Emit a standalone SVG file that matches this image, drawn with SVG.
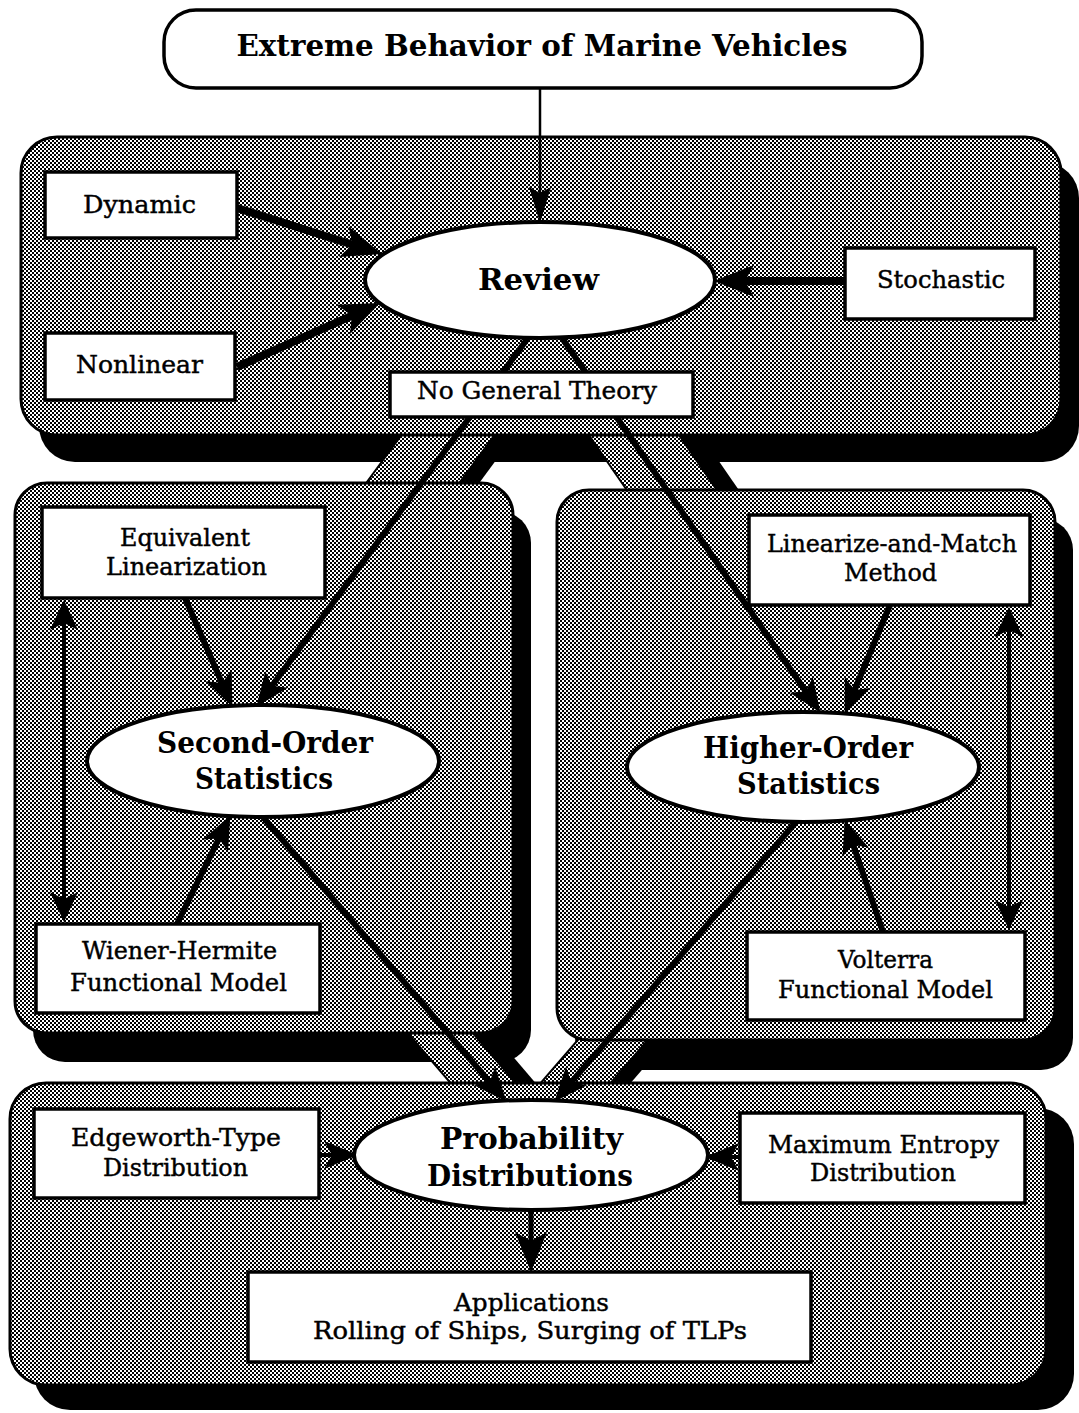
<svg xmlns="http://www.w3.org/2000/svg" width="1079" height="1413" viewBox="0 0 1079 1413">
<defs>
<pattern id="ht" width="4" height="4" patternUnits="userSpaceOnUse"><rect width="4" height="4" fill="#fff"/><rect width="2" height="2" fill="#000"/><rect x="2" y="2" width="2" height="2" fill="#000"/></pattern>
<marker id="at" markerUnits="userSpaceOnUse" markerWidth="40" markerHeight="30" refX="10" refY="11" orient="auto" overflow="visible"><path d="M0,0 L36,11 L0,22 L6,11 z" fill="#000"/></marker>
<marker id="ab" markerUnits="userSpaceOnUse" markerWidth="44" markerHeight="36" refX="16" refY="16" orient="auto" overflow="visible"><path d="M0,0 L40,16 L0,32 L9,16 z" fill="#000"/></marker>
<marker id="am" markerUnits="userSpaceOnUse" markerWidth="40" markerHeight="30" refX="14" refY="14" orient="auto" overflow="visible"><path d="M0,0 L34,14 L0,28 L8,14 z" fill="#000"/></marker>
<marker id="ad" markerUnits="userSpaceOnUse" markerWidth="36" markerHeight="30" refX="12" refY="14" orient="auto-start-reverse" overflow="visible"><path d="M0,0 L30,14 L0,28 L7,14 z" fill="#000"/></marker>
<style>
.sh{fill:#000}
.pn{fill:url(#ht);stroke:#000;stroke-width:3}
.bd{fill:url(#ht);stroke:#000;stroke-width:2}
.bx{fill:#fff;stroke:#000;stroke-width:3.5}
.el{fill:#fff;stroke:#000;stroke-width:4}
.c{stroke:#000;fill:none;stroke-linecap:butt}
text{font-family:"DejaVu Serif","Liberation Serif",serif;text-anchor:middle;fill:#000}
.r{font-size:25px;stroke:#000;stroke-width:0.45}
.b{font-size:30px;font-weight:bold}
</style>
</defs>
<rect width="1079" height="1413" fill="#fff"/>

<g id="panels">
  <rect class="sh" x="39" y="162" width="1040" height="300" rx="36"/>
  <rect class="sh" x="33" y="511" width="498" height="551" rx="32"/>
  <rect class="sh" x="575" y="518" width="498" height="552" rx="32"/>
  <rect class="sh" x="34" y="1108" width="1040" height="302" rx="36"/>
  <polygon class="sh" points="428.9,425 521.9,425 466.7,500 373.7,500"/>
  <polygon class="sh" points="604,425 694,425 745.7,500 655.7,500"/>
  <polygon class="sh" points="416.6,1020 481.6,1020 545.8,1095 480.8,1095"/>
  <polygon class="sh" points="615.1,1020 685.1,1020 620.3,1095 550.3,1095"/>
  <polygon class="bd" points="408.9,425 501.9,425 446.7,500 353.7,500"/>
  <polygon class="bd" points="582,425 672,425 723.7,500 633.7,500"/>
  <polygon class="bd" points="396.6,1020 461.6,1020 525.8,1095 460.8,1095"/>
  <polygon class="bd" points="595.1,1020 665.1,1020 600.3,1095 530.3,1095"/>
  <rect id="panel-review" class="pn" x="21" y="137" width="1040" height="298" rx="36"/>
  <rect id="panel-second" class="pn" x="15" y="483" width="498" height="550" rx="32"/>
  <rect id="panel-higher" class="pn" x="557" y="490" width="498" height="550" rx="32"/>
  <rect id="panel-prob" class="pn" x="10" y="1083" width="1036" height="302" rx="36"/>
</g>

<g id="connectors">
  <line class="c" x1="540" y1="88" x2="540" y2="197" stroke-width="2.5" marker-end="url(#at)"/>
  <line class="c" x1="237" y1="208" x2="359.1" y2="246.7" stroke-width="8" marker-end="url(#ab)"/>
  <line class="c" x1="237" y1="367" x2="358.1" y2="312.8" stroke-width="8" marker-end="url(#ab)"/>
  <line class="c" x1="845" y1="281" x2="738" y2="281" stroke-width="8" marker-end="url(#ab)"/>
  <line class="c" x1="528" y1="338" x2="268.3" y2="690.7" stroke-width="6" marker-end="url(#am)"/>
  <line class="c" x1="562" y1="338" x2="809.2" y2="696.4" stroke-width="6" marker-end="url(#am)"/>
  <line class="c" x1="185" y1="598" x2="224.4" y2="688.6" stroke-width="6" marker-end="url(#am)"/>
  <line class="c" x1="177" y1="924" x2="221.6" y2="833.1" stroke-width="6" marker-end="url(#am)"/>
  <line class="c" x1="64" y1="618" x2="64" y2="904" stroke-width="4" marker-start="url(#ad)" marker-end="url(#ad)"/>
  <line class="c" x1="890" y1="605" x2="852.3" y2="695.5" stroke-width="6" marker-end="url(#am)"/>
  <line class="c" x1="883" y1="932" x2="851.2" y2="839" stroke-width="6" marker-end="url(#am)"/>
  <line class="c" x1="1009" y1="625" x2="1009" y2="912" stroke-width="4" marker-start="url(#ad)" marker-end="url(#ad)"/>
  <line class="c" x1="262" y1="816" x2="493.6" y2="1086.6" stroke-width="6" marker-end="url(#am)"/>
  <line class="c" x1="797" y1="821" x2="567.4" y2="1086.6" stroke-width="6" marker-end="url(#am)"/>
  <line class="c" x1="319" y1="1155" x2="338" y2="1155" stroke-width="4" marker-end="url(#am)"/>
  <line class="c" x1="740" y1="1157" x2="725" y2="1157" stroke-width="4" marker-end="url(#am)"/>
  <line class="c" x1="531" y1="1210" x2="531" y2="1248" stroke-width="5" marker-end="url(#ab)"/>
</g>

<g id="node-title">
  <rect class="bx" x="164" y="10" width="758" height="78" rx="32"/>
  <text x="542" y="56" font-size="29" font-weight="bold" textLength="611" lengthAdjust="spacingAndGlyphs">Extreme Behavior of Marine Vehicles</text>
</g>
<g id="node-dynamic">
  <rect class="bx" x="45" y="172" width="192" height="66"/>
  <text class="r" x="139.5" y="213" textLength="113" lengthAdjust="spacingAndGlyphs">Dynamic</text>
</g>
<g id="node-nonlinear">
  <rect class="bx" x="45" y="333" width="190" height="67"/>
  <text class="r" x="139.5" y="373" textLength="127" lengthAdjust="spacingAndGlyphs">Nonlinear</text>
</g>
<g id="node-stochastic">
  <rect class="bx" x="845" y="248" width="190" height="71"/>
  <text class="r" x="941" y="288" textLength="128" lengthAdjust="spacingAndGlyphs">Stochastic</text>
</g>
<g id="node-review">
  <ellipse class="el" cx="540" cy="280" rx="175" ry="58"/>
  <text class="b" x="538.5" y="290" textLength="121" lengthAdjust="spacingAndGlyphs">Review</text>
</g>
<g id="node-nogeneral">
  <rect class="bx" x="390" y="372" width="303" height="45"/>
  <text class="r" x="537" y="399" textLength="240" lengthAdjust="spacingAndGlyphs">No General Theory</text>
</g>
<g id="node-equivalent">
  <rect class="bx" x="42" y="507" width="283" height="91"/>
  <text class="r" x="185" y="546" textLength="130" lengthAdjust="spacingAndGlyphs">Equivalent</text>
  <text class="r" x="186.5" y="575" textLength="161" lengthAdjust="spacingAndGlyphs">Linearization</text>
</g>
<g id="node-second">
  <ellipse class="el" cx="263" cy="761" rx="176" ry="56"/>
  <text class="b" x="265" y="753" textLength="216" lengthAdjust="spacingAndGlyphs">Second-Order</text>
  <text class="b" x="264" y="789" textLength="138" lengthAdjust="spacingAndGlyphs">Statistics</text>
</g>
<g id="node-wiener">
  <rect class="bx" x="36" y="924" width="284" height="89"/>
  <text class="r" x="179.5" y="959" textLength="195" lengthAdjust="spacingAndGlyphs">Wiener-Hermite</text>
  <text class="r" x="178.5" y="991" textLength="217" lengthAdjust="spacingAndGlyphs">Functional Model</text>
</g>
<g id="node-linmatch">
  <rect class="bx" x="749" y="515" width="281" height="90"/>
  <text class="r" x="892" y="552" textLength="250" lengthAdjust="spacingAndGlyphs">Linearize-and-Match</text>
  <text class="r" x="890.5" y="581" textLength="93" lengthAdjust="spacingAndGlyphs">Method</text>
</g>
<g id="node-higher">
  <ellipse class="el" cx="803" cy="767" rx="176" ry="55"/>
  <text class="b" x="808" y="758" textLength="210" lengthAdjust="spacingAndGlyphs">Higher-Order</text>
  <text class="b" x="808.5" y="794" textLength="143" lengthAdjust="spacingAndGlyphs">Statistics</text>
</g>
<g id="node-volterra">
  <rect class="bx" x="747" y="932" width="278" height="88"/>
  <text class="r" x="885.5" y="968" textLength="95" lengthAdjust="spacingAndGlyphs">Volterra</text>
  <text class="r" x="885.5" y="998" textLength="215" lengthAdjust="spacingAndGlyphs">Functional Model</text>
</g>
<g id="node-edgeworth">
  <rect class="bx" x="34" y="1109" width="285" height="89"/>
  <text class="r" x="176" y="1146" textLength="210" lengthAdjust="spacingAndGlyphs">Edgeworth-Type</text>
  <text class="r" x="175.5" y="1176" textLength="145" lengthAdjust="spacingAndGlyphs">Distribution</text>
</g>
<g id="node-probability">
  <ellipse class="el" cx="531" cy="1155" rx="177" ry="55"/>
  <text class="b" x="531.5" y="1149" textLength="183" lengthAdjust="spacingAndGlyphs">Probability</text>
  <text class="b" x="530" y="1186" textLength="206" lengthAdjust="spacingAndGlyphs">Distributions</text>
</g>
<g id="node-maxent">
  <rect class="bx" x="740" y="1113" width="285" height="90"/>
  <text class="r" x="883.5" y="1153" textLength="231" lengthAdjust="spacingAndGlyphs">Maximum Entropy</text>
  <text class="r" x="883" y="1181" textLength="146" lengthAdjust="spacingAndGlyphs">Distribution</text>
</g>
<g id="node-applications">
  <rect class="bx" x="248" y="1272" width="563" height="90"/>
  <text class="r" x="531.5" y="1311" textLength="155" lengthAdjust="spacingAndGlyphs">Applications</text>
  <text class="r" x="530" y="1339" textLength="434" lengthAdjust="spacingAndGlyphs">Rolling of Ships, Surging of TLPs</text>
</g>
</svg>
